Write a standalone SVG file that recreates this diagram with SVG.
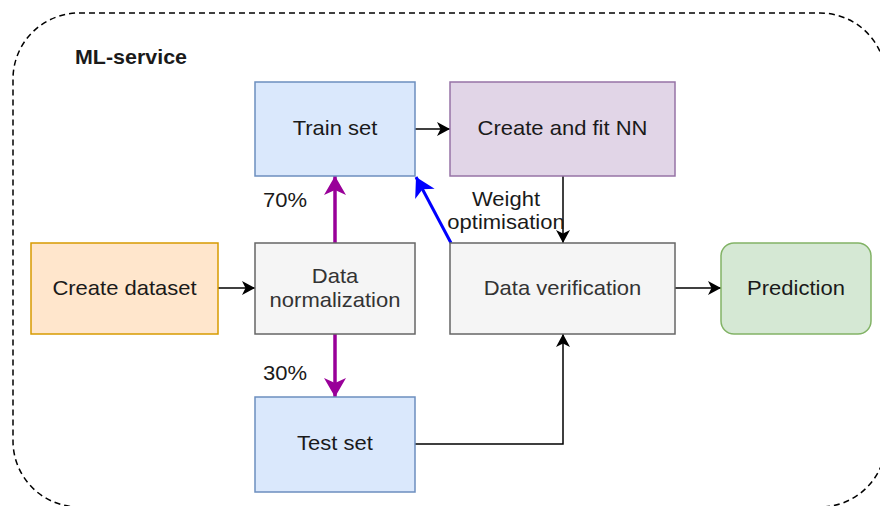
<svg xmlns="http://www.w3.org/2000/svg" width="880" height="506" viewBox="0 0 880 506">
<style>
text{font-family:"Liberation Sans",Arial,sans-serif;font-size:20px;fill:#1a1a1a;text-anchor:middle}
.g text{fill:#333333}
.box{stroke-width:1.5}
.blue{fill:#dae8fc;stroke:#6c8ebf}
.purple{fill:#e1d5e7;stroke:#9673a6}
.orange{fill:#ffe6cc;stroke:#d79b00}
.gray{fill:#f5f5f5;stroke:#666666}
.green{fill:#d5e8d4;stroke:#82b366}
.edge{fill:none;stroke:#000;stroke-width:1.5}
</style>
<defs>
<marker id="ah" markerUnits="userSpaceOnUse" markerWidth="15" markerHeight="14" refX="13" refY="7" orient="auto"><path d="M0,0 L13,7 L0,14 L3.5,7 Z" fill="#000"/></marker>
<marker id="ahp" markerUnits="userSpaceOnUse" markerWidth="20" markerHeight="22" refX="19" refY="11" orient="auto"><path d="M0,0 L19,11 L0,22 L5,11 Z" fill="#990099"/></marker>
<marker id="ahb" markerUnits="userSpaceOnUse" markerWidth="20" markerHeight="22" refX="19" refY="11" orient="auto"><path d="M0,0 L19,11 L0,22 L5,11 Z" fill="#0000ff"/></marker>
</defs>
<g id="container">
<rect x="13" y="13" width="873" height="494" rx="66" ry="66" fill="none" stroke="#000" stroke-width="1.5" stroke-dasharray="6 4"/>
<text x="0" y="0" transform="translate(75 64) scale(1.1 1)" style="text-anchor:start;font-weight:bold;font-size:19.5px">ML-service</text>
</g>
<g id="connectors">
<line class="edge" x1="415" y1="129" x2="450" y2="129" marker-end="url(#ah)"/>
<line class="edge" x1="563" y1="176" x2="563" y2="243" marker-end="url(#ah)"/>
<line class="edge" x1="218" y1="288" x2="255" y2="288" marker-end="url(#ah)"/>
<line class="edge" x1="675" y1="288" x2="721" y2="288" marker-end="url(#ah)"/>
<polyline class="edge" points="415,444 563,444 563,334" marker-end="url(#ah)"/>
<line x1="335" y1="243" x2="335" y2="176" stroke="#990099" stroke-width="3.5" marker-end="url(#ahp)"/>
<line x1="335" y1="334" x2="335" y2="397" stroke="#990099" stroke-width="3.5" marker-end="url(#ahp)"/>
<line x1="451" y1="243" x2="416" y2="177" stroke="#0000ff" stroke-width="3" marker-end="url(#ahb)"/>
<text transform="translate(285 207) scale(1.1 1)">70%</text>
<text transform="translate(285 380) scale(1.1 1)">30%</text>
<text transform="translate(506 206) scale(1.1 1)">Weight</text>
<text transform="translate(506 229) scale(1.1 1)">optimisation</text>
</g>
<g id="train-set">
<rect class="box blue" x="255" y="82" width="160" height="94"/>
<text transform="translate(335 135) scale(1.1 1)">Train set</text>
</g>
<g id="create-fit-nn">
<rect class="box purple" x="450" y="82" width="225" height="94"/>
<text transform="translate(562.5 135) scale(1.1 1)">Create and fit NN</text>
</g>
<g id="create-dataset">
<rect class="box orange" x="31" y="243" width="187" height="91"/>
<text transform="translate(124.5 295) scale(1.1 1)">Create dataset</text>
</g>
<g id="data-normalization" class="g">
<rect class="box gray" x="255" y="243" width="160" height="91"/>
<text transform="translate(335 283) scale(1.1 1)">Data</text>
<text transform="translate(335 306.5) scale(1.1 1)">normalization</text>
</g>
<g id="data-verification" class="g">
<rect class="box gray" x="450" y="243" width="225" height="91"/>
<text transform="translate(562.5 294.5) scale(1.1 1)">Data verification</text>
</g>
<g id="prediction">
<rect class="box green" x="721" y="243" width="150" height="91" rx="13" ry="13"/>
<text transform="translate(796 294.5) scale(1.1 1)">Prediction</text>
</g>
<g id="test-set">
<rect class="box blue" x="255" y="397" width="160" height="95"/>
<text transform="translate(335 450) scale(1.1 1)">Test set</text>
</g>
</svg>
